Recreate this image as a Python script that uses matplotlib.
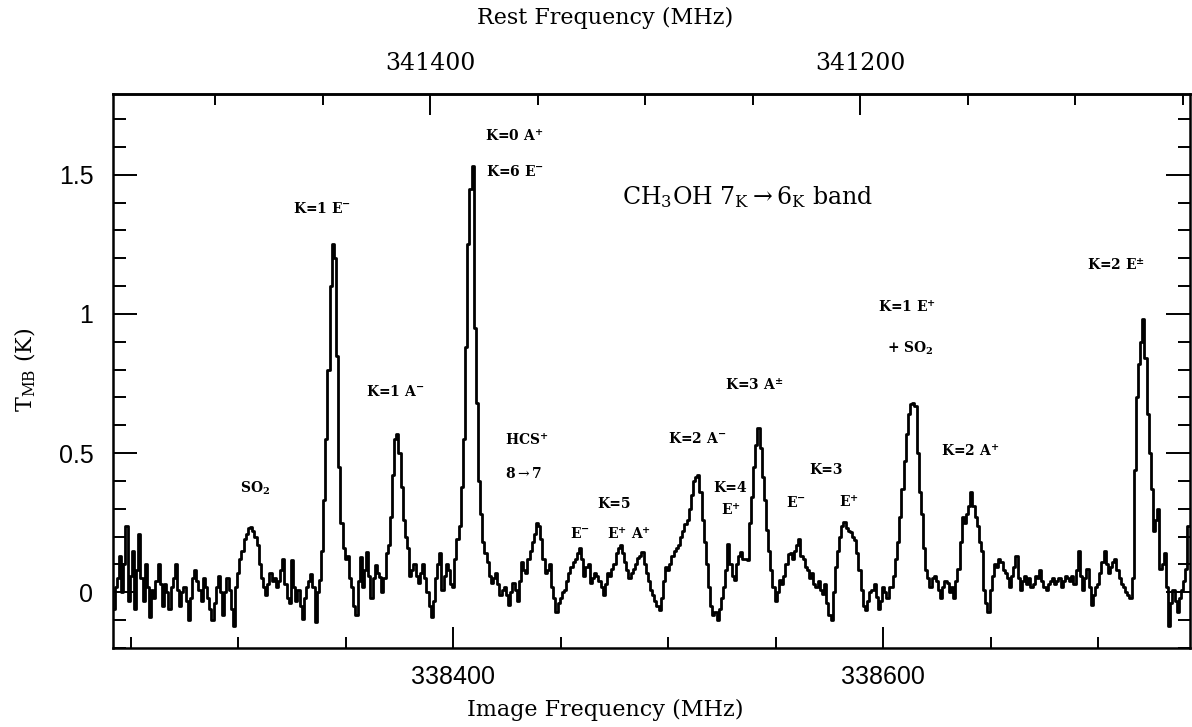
import numpy as np
import matplotlib
matplotlib.use("Agg")
import matplotlib.pyplot as plt
from matplotlib.ticker import MultipleLocator, FixedLocator, FuncFormatter

plt.rcParams['mathtext.fontset'] = 'dejavuserif'

# ---------------- data ----------------
FREQ_START = 338242.0      # MHz, image frequency of first channel
CHANNEL_WIDTH = 1.0        # MHz
LO_SUM = 679789.4          # rest + image frequency (MHz)

tmb = [
    -0.06, 0.02, 0.05, 0.13, 0.00, 0.10, 0.24, -0.03, 0.06, 0.15,
    -0.06, 0.08, 0.21, 0.05, -0.03, 0.10, 0.02, -0.09, 0.01, -0.02,
    0.04, 0.10, 0.03, -0.05, 0.03, 0.00, -0.06, 0.02, 0.05, 0.10,
    0.01, -0.05, 0.00, 0.02, -0.03, -0.10, -0.02, 0.05, 0.08, 0.04,
    0.01, -0.03, 0.05, 0.02, -0.02, -0.06, -0.10, -0.04, 0.02, 0.06,
    0.00, -0.08, 0.00, 0.05, 0.01, -0.06, -0.12, 0.02, 0.07, 0.12,
    0.15, 0.19, 0.21, 0.23, 0.235, 0.22, 0.20, 0.17, 0.10, 0.05,
    0.02, -0.01, 0.03, 0.07, 0.04, 0.05, 0.02, 0.04, 0.08, 0.12,
    0.03, -0.02, -0.04, 0.115, 0.02, -0.03, 0.01, -0.05, -0.095, -0.02,
    0.02, 0.04, 0.067, 0.02, -0.107, 0.00, 0.045, 0.15, 0.33, 0.55,
    0.80, 1.10, 1.25, 1.20, 0.85, 0.45, 0.25, 0.16, 0.12, 0.13,
    0.05, 0.02, -0.05, -0.08, 0.04, 0.127, 0.02, 0.08, 0.145, 0.06,
    -0.02, 0.05, 0.097, 0.07, 0.055, 0.00, 0.05, 0.14, 0.17, 0.27,
    0.42, 0.55, 0.57, 0.50, 0.38, 0.26, 0.20, 0.16, 0.06, 0.08,
    0.10, 0.06, 0.035, 0.07, 0.10, 0.05, 0.00, -0.05, -0.09, -0.03,
    0.05, 0.10, 0.14, 0.01, 0.06, 0.10, 0.08, 0.03, 0.02, 0.12,
    0.19, 0.24, 0.38, 0.55, 0.88, 1.25, 1.45, 1.53, 0.95, 0.68,
    0.40, 0.28, 0.18, 0.14, 0.11, 0.06, 0.035, 0.05, 0.07, 0.03,
    -0.01, 0.01, 0.02, -0.01, -0.045, 0.00, 0.035, 0.01, -0.03, 0.04,
    0.11, 0.08, 0.07, 0.12, 0.15, 0.18, 0.21, 0.25, 0.24, 0.19,
    0.12, 0.07, 0.08, 0.10, 0.02, -0.02, -0.07, -0.04, -0.02, 0.00,
    0.01, 0.04, 0.07, 0.09, 0.11, 0.12, 0.14, 0.16, 0.12, 0.06,
    0.09, 0.10, 0.035, 0.05, 0.07, 0.06, 0.04, 0.02, -0.01, 0.03,
    0.07, 0.06, 0.085, 0.10, 0.14, 0.16, 0.17, 0.14, 0.11, 0.08,
    0.05, 0.07, 0.085, 0.10, 0.125, 0.13, 0.145, 0.10, 0.07, 0.04,
    0.01, -0.01, -0.03, -0.05, -0.065, -0.02, 0.04, 0.09, 0.08, 0.10,
    0.13, 0.15, 0.16, 0.17, 0.20, 0.22, 0.247, 0.26, 0.30, 0.35,
    0.40, 0.415, 0.42, 0.36, 0.26, 0.18, 0.10, 0.02, -0.05, -0.08,
    -0.07, -0.10, -0.06, -0.02, 0.02, 0.08, 0.175, 0.10, 0.06, 0.043,
    0.10, 0.13, 0.145, 0.12, 0.12, 0.115, 0.25, 0.343, 0.45, 0.53,
    0.589, 0.52, 0.415, 0.33, 0.223, 0.15, 0.08, 0.02, -0.03, 0.00,
    0.043, 0.03, 0.06, 0.10, 0.139, 0.14, 0.12, 0.15, 0.17, 0.193,
    0.13, 0.12, 0.091, 0.08, 0.05, 0.07, 0.03, 0.019, 0.04, 0.01,
    -0.005, 0.03, -0.04, -0.08, -0.10, 0.00, 0.091, 0.15, 0.20, 0.24,
    0.253, 0.23, 0.22, 0.217, 0.20, 0.187, 0.14, 0.08, 0.007, -0.05,
    -0.065, -0.03, 0.00, 0.007, 0.03, -0.017, -0.06, -0.03, 0.02, 0.00,
    -0.02, 0.02, 0.02, 0.06, 0.12, 0.18, 0.27, 0.37, 0.47, 0.57,
    0.64, 0.675, 0.68, 0.67, 0.50, 0.36, 0.28, 0.16, 0.08, 0.05,
    0.02, 0.05, 0.06, 0.04, 0.01, -0.02, 0.02, 0.04, 0.035, 0.00,
    0.02, -0.02, 0.04, 0.085, 0.18, 0.27, 0.25, 0.28, 0.31, 0.36,
    0.31, 0.27, 0.24, 0.18, 0.15, 0.008, -0.04, -0.07, 0.008, 0.06,
    0.10, 0.09, 0.12, 0.11, 0.08, 0.07, 0.05, 0.02, 0.06, 0.09,
    0.13, 0.05, 0.008, 0.04, 0.06, 0.03, 0.05, 0.02, 0.03, 0.06,
    0.05, 0.08, 0.04, 0.02, 0.008, 0.03, 0.04, 0.05, 0.03, 0.04,
    0.05, 0.02, 0.04, 0.06, 0.05, 0.04, 0.06, 0.03, 0.08, 0.15,
    0.06, 0.008, 0.05, 0.085, 0.02, -0.045, -0.01, 0.02, 0.03, 0.07,
    0.11, 0.15, 0.10, 0.07, 0.09, 0.11, 0.12, 0.08, 0.05, 0.03,
    0.02, 0.00, -0.01, -0.02, 0.05, 0.44, 0.70, 0.82, 0.90, 0.98,
    0.84, 0.64, 0.50, 0.37, 0.22, 0.26, 0.30, 0.085, 0.10, 0.14,
    0.02, -0.12, -0.04, 0.008, -0.03, -0.07, -0.02, 0.008, 0.04, 0.085,
    0.24,
]

rest_major_ticks = [341400, 341200]
rest_minor_ticks = [341500, 341450, 341350, 341300, 341250, 341150, 341100, 341050]

# line identifications: text, image frequency (MHz), T_MB (K) of label
label_texts = [
    r'SO$_{\mathbf{2}}$', r'K=1 E$^{\mathbf{-}}$', r'K=1 A$^{\mathbf{-}}$',
    r'K=0 A$^{\mathbf{+}}$', r'K=6 E$^{\mathbf{-}}$', r'HCS$^{\mathbf{+}}$',
    r'8$\rightarrow$7', r'K=5', r'E$^{\mathbf{-}}$', r'E$^{\mathbf{+}}$ A$^{\mathbf{+}}$',
    r'K=2 A$^{\mathbf{-}}$', r'K=4', r'E$^{\mathbf{+}}$', r'K=3 A$^{\mathbf{\pm}}$',
    r'K=3', r'E$^{\mathbf{-}}$', r'E$^{\mathbf{+}}$', r'K=1 E$^{\mathbf{+}}$',
    r'+ SO$_{\mathbf{2}}$', r'K=2 A$^{\mathbf{+}}$', r'K=2 E$^{\mathbf{\pm}}$',
]
label_freqs = [
    338307.8, 338339.0, 338372.9,
    338428.5, 338428.5, 338434.3,
    338432.5, 338474.8, 338459.0, 338481.8,
    338513.4, 338528.7, 338529.2, 338540.0,
    338573.3, 338559.3, 338583.9, 338611.0,
    338612.5, 338640.3, 338708.1,
]
label_temps = [
    0.374, 1.38, 0.72,
    1.64, 1.51, 0.55,
    0.426, 0.316, 0.212, 0.212,
    0.554, 0.374, 0.295, 0.745,
    0.439, 0.324, 0.324, 1.026,
    0.878, 0.51, 1.176,
]

# ---------------- figure ----------------
W, H = 1192, 727
fig = plt.figure(figsize=(W / 100, H / 100), dpi=100)
ax = fig.add_axes([112.7 / W, 1 - 648 / H, (1190 - 112.7) / W, (648 - 94) / H])

freq = FREQ_START + CHANNEL_WIDTH * np.arange(len(tmb))
ax.step(freq, tmb, where='mid', color='black', lw=2.0)

ax.set_xlim(338241.6, 338742.7)
ax.set_ylim(-0.2, 1.79)

for s in ax.spines.values():
    s.set_linewidth(1.8)

ax.xaxis.set_major_locator(MultipleLocator(200))
ax.xaxis.set_minor_locator(MultipleLocator(50))
ax.yaxis.set_major_locator(MultipleLocator(0.5))
ax.yaxis.set_minor_locator(MultipleLocator(0.1))
ax.yaxis.set_major_formatter(FuncFormatter(lambda v, p: '%g' % round(v, 3)))
ax.tick_params(which='both', direction='in', top=False, right=True, width=1.4)
ax.tick_params(axis='x', which='major', length=15, pad=12)
ax.tick_params(axis='x', which='minor', length=8)
ax.tick_params(axis='y', which='major', length=17, pad=14)
ax.tick_params(axis='y', which='minor', length=9)
for t in ax.get_xticklabels() + ax.get_yticklabels():
    t.set_fontfamily('Liberation Sans')
    t.set_fontsize(18)

sec = ax.secondary_xaxis('top', functions=(lambda f: LO_SUM - f, lambda r: LO_SUM - r))
sec.xaxis.set_major_locator(FixedLocator(rest_major_ticks))
sec.xaxis.set_minor_locator(FixedLocator(rest_minor_ticks))
sec.xaxis.set_major_formatter(FuncFormatter(lambda v, p: '%d' % round(v)))
sec.tick_params(which='both', direction='in', width=1.4)
sec.tick_params(which='major', length=15, pad=14)
sec.tick_params(which='minor', length=8)
sec.spines['top'].set_linewidth(1.8)
for t in sec.get_xticklabels():
    t.set_fontfamily('DejaVu Serif')
    t.set_fontsize(17)

# axis titles
fig.text(605 / W, 1 - 18 / H, 'Rest Frequency (MHz)', family='DejaVu Serif',
         fontsize=16, ha='center', va='center')
fig.text(605 / W, 1 - 710 / H, 'Image Frequency (MHz)', family='DejaVu Serif',
         fontsize=16, ha='center', va='center')
fig.text(25 / W, 1 - 370 / H, r'T$_{\rm MB}$ (K)', family='DejaVu Serif',
         fontsize=16, ha='center', va='center', rotation=90)

ax.text(338537.0, 1.42, r'CH$_3$OH 7$_{\rm K}$$\rightarrow$6$_{\rm K}$ band',
        family='DejaVu Serif', fontsize=17, ha='center', va='center')

for txt, f, t in zip(label_texts, label_freqs, label_temps):
    ax.text(f, t, txt, family='DejaVu Serif', fontweight='bold', fontsize=10,
            ha='center', va='center')

fig.savefig('out.png', dpi=100)
